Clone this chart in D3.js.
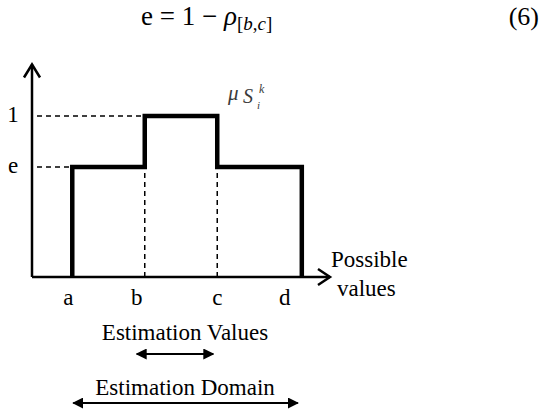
<!DOCTYPE html>
<html>
<head>
<meta charset="utf-8">
<script src="https://cdn.jsdelivr.net/npm/d3@7"></script>
<style>
  body { margin: 0; background: #fff; }
</style>
</head>
<body>
<svg id="chart" width="545" height="415"></svg>
<script>
// breakpoints of the membership function (data units along "possible values")
const breakNames = ['a', 'b', 'c', 'd'];
const breakValues = [0.5, 1.4, 2.3, 3.35];
// membership levels
const levelNames = ['e', '1'];
const levelValues = [0.683, 1];
// which level holds on each interval [a,b], [b,c], [c,d]
const stepLevels = [0.683, 1, 0.683];

const FONT = "'Liberation Serif', 'Times New Roman', serif";

const svg = d3.select('#chart');

const x = d3.scaleLinear().domain([0, 3.7]).range([32, 330]);
const y = d3.scaleLinear().domain([0, 1]).range([277, 116]);

const defs = svg.append('defs');
defs.append('marker')
    .attr('id', 'tri')
    .attr('viewBox', '0 0 10 10')
    .attr('refX', 9).attr('refY', 5)
    .attr('markerWidth', 5).attr('markerHeight', 5)
    .attr('orient', 'auto-start-reverse')
    .append('path')
    .attr('d', 'M0,0 L10,5 L0,10 z')
    .attr('fill', '#000');

function label(sel) {
    return sel.style('font-family', FONT).attr('fill', '#000');
}

//#region equation
const eq = label(svg.append('text'))
    .attr('x', 141).attr('y', 25)
    .style('font-size', '27px');
eq.append('tspan').text('e = 1 − ');
eq.append('tspan').style('font-style', 'italic').text('ρ');
eq.append('tspan').attr('dy', 5).style('font-size', '19px').text('[');
eq.append('tspan').style('font-size', '19px').style('font-style', 'italic').text('b');
eq.append('tspan').style('font-size', '19px').text(',');
eq.append('tspan').style('font-size', '19px').style('font-style', 'italic').text('c');
eq.append('tspan').style('font-size', '19px').text(']');

label(svg.append('text'))
    .attr('x', 539).attr('y', 25)
    .attr('text-anchor', 'end')
    .style('font-size', '26px')
    .text('(6)');
//#endregion

//#region axes
const axisG = svg.append('g')
    .attr('stroke', '#000')
    .attr('stroke-width', 2.5)
    .attr('fill', 'none');

axisG.append('line')
    .attr('x1', x(0)).attr('y1', y(0))
    .attr('x2', x(0)).attr('y2', y(1.32));
axisG.append('path')
    .attr('d', `M${x(0) - 8},${y(1.32) + 13} L${x(0)},${y(1.32)} L${x(0) + 8},${y(1.32) + 13}`);

axisG.append('line')
    .attr('x1', x(0)).attr('y1', y(0))
    .attr('x2', x(3.7)).attr('y2', y(0));
axisG.append('path')
    .attr('d', `M${x(3.7) - 12},${y(0) - 8} L${x(3.7)},${y(0)} L${x(3.7) - 12},${y(0) + 8}`);
//#endregion

//#region dashed guides
const dashG = svg.append('g')
    .attr('stroke', '#000')
    .attr('stroke-width', 1.5)
    .attr('stroke-dasharray', '5,4')
    .attr('fill', 'none');

// horizontal guides from the y axis to where each level starts
levelValues.forEach(lv => {
    const firstIdx = stepLevels.indexOf(lv);
    dashG.append('line')
        .attr('x1', x(0) + 5).attr('y1', y(lv))
        .attr('x2', x(breakValues[firstIdx])).attr('y2', y(lv));
});
// vertical guides under b and c
[1, 2].forEach(i => {
    dashG.append('line')
        .attr('x1', x(breakValues[i])).attr('y1', y(0))
        .attr('x2', x(breakValues[i])).attr('y2', y(levelValues[0]));
});
//#endregion

//#region step membership function
const pts = [[breakValues[0], 0]];
stepLevels.forEach((lv, i) => {
    pts.push([breakValues[i], lv]);
    pts.push([breakValues[i + 1], lv]);
});
pts.push([breakValues[3], 0]);

const line = d3.line()
    .x(d => x(d[0]))
    .y(d => y(d[1]));

svg.append('path')
    .datum(pts)
    .attr('d', line)
    .attr('fill', 'none')
    .attr('stroke', '#000')
    .attr('stroke-width', 4.5)
    .attr('stroke-linejoin', 'miter');
//#endregion

//#region labels
const labelSize = '23px';

label(svg.selectAll('.lvl')
    .data(levelNames)
    .enter()
    .append('text'))
    .attr('class', 'lvl')
    .attr('x', 13)
    .attr('y', (d, i) => y(levelValues[i]))
    .attr('dy', '0.28em')
    .attr('text-anchor', 'middle')
    .style('font-size', labelSize)
    .text(d => d);

// tick labels sit a little left of the breakpoints in the original drawing
const tickNudge = [-4, -8, 0, -17];
label(svg.selectAll('.brk')
    .data(breakNames)
    .enter()
    .append('text'))
    .attr('class', 'brk')
    .attr('x', (d, i) => x(breakValues[i]) + tickNudge[i])
    .attr('y', 305)
    .attr('text-anchor', 'middle')
    .style('font-size', labelSize)
    .text(d => d);

label(svg.append('text'))
    .attr('x', 331).attr('y', 267)
    .style('font-size', labelSize)
    .text('Possible');
label(svg.append('text'))
    .attr('x', 337).attr('y', 296)
    .style('font-size', labelSize)
    .text('values');

// membership function label  mu_{S_i^k}
const muG = svg.append('g');
label(muG.append('text'))
    .attr('x', 228).attr('y', 100)
    .attr('fill', '#3a3a3a')
    .style('font-size', '21px')
    .style('font-style', 'italic')
    .text('μ');
label(muG.append('text'))
    .attr('x', 243).attr('y', 103)
    .attr('fill', '#3a3a3a')
    .style('font-size', '20px')
    .style('font-style', 'italic')
    .text('S');
label(muG.append('text'))
    .attr('x', 259).attr('y', 93)
    .attr('fill', '#3a3a3a')
    .style('font-size', '12px')
    .style('font-style', 'italic')
    .text('k');
label(muG.append('text'))
    .attr('x', 257).attr('y', 109)
    .attr('fill', '#3a3a3a')
    .style('font-size', '11px')
    .style('font-style', 'italic')
    .text('i');
//#endregion

//#region estimation ranges
label(svg.append('text'))
    .attr('x', (x(breakValues[1]) + x(breakValues[2])) / 2 + 4)
    .attr('y', 340)
    .attr('text-anchor', 'middle')
    .style('font-size', labelSize)
    .text('Estimation Values');

svg.append('line')
    .attr('x1', x(breakValues[1]) - 8).attr('y1', 354)
    .attr('x2', x(breakValues[2]) - 4).attr('y2', 354)
    .attr('stroke', '#000').attr('stroke-width', 2.2)
    .attr('marker-start', 'url(#tri)')
    .attr('marker-end', 'url(#tri)');

label(svg.append('text'))
    .attr('x', (x(breakValues[0]) + x(breakValues[3])) / 2 - 2)
    .attr('y', 395)
    .attr('text-anchor', 'middle')
    .style('font-size', labelSize)
    .text('Estimation Domain');

svg.append('line')
    .attr('x1', x(breakValues[0]) + 1).attr('y1', 403)
    .attr('x2', x(breakValues[3]) - 4).attr('y2', 403)
    .attr('stroke', '#000').attr('stroke-width', 2.2)
    .attr('marker-start', 'url(#tri)')
    .attr('marker-end', 'url(#tri)');
//#endregion
</script>
</body>
</html>
